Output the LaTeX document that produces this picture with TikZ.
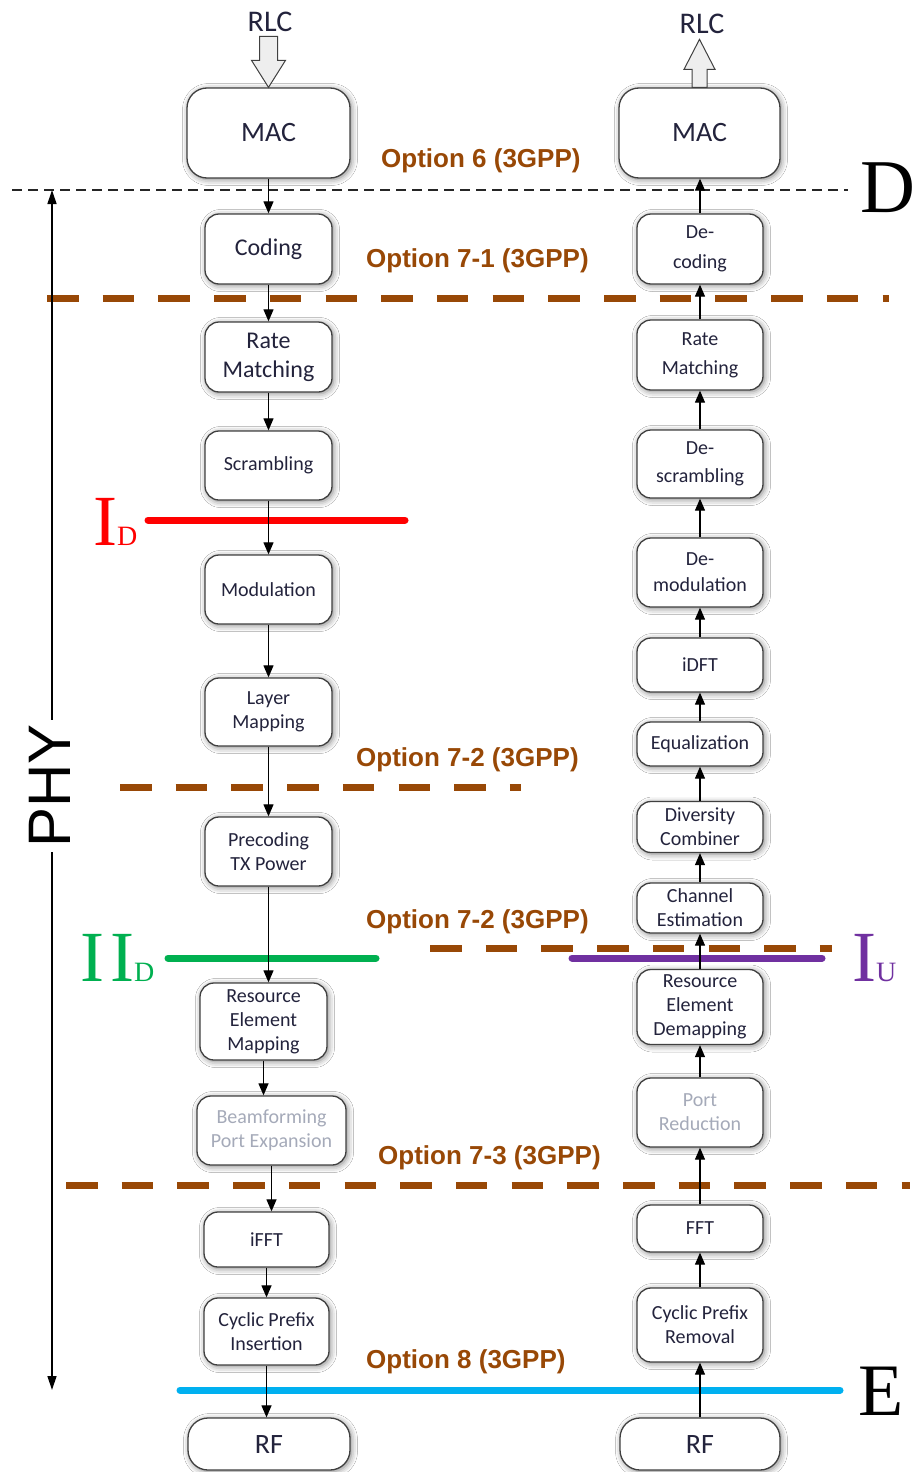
\documentclass[tikz,border=0pt]{standalone}
\usepackage{fontspec}
\setmainfont{Carlito}
\newfontfamily\arialf{Liberation Sans}
\newfontfamily\timesf{Liberation Serif}
\usetikzlibrary{arrows.meta,shadows.blur}
\definecolor{optbrown}{RGB}{152,72,6}
\definecolor{idred}{RGB}{255,0,0}
\definecolor{iidgreen}{RGB}{0,176,80}
\definecolor{iupurple}{RGB}{112,48,160}
\definecolor{ecyan}{RGB}{0,176,240}
\definecolor{boxtext}{RGB}{35,35,60}
\definecolor{graytext}{RGB}{165,170,185}
\definecolor{boxborder}{RGB}{64,64,64}
\definecolor{arrowfill}{RGB}{238,238,238}
\begin{document}
\begin{tikzpicture}[x=1pt,y=-1pt,
  blk/.style={draw=boxborder, line width=1.3pt, rounded corners=14pt, fill=white,
    align=center, inner sep=0pt, text=boxtext, font=\fontsize{20}{24}\selectfont,
    blur shadow={shadow xshift=1.5pt, shadow yshift=-1.5pt, shadow blur radius=6pt, shadow opacity=50}},
  big/.style={rounded corners=20pt, font=\fontsize{28}{32}\selectfont},
  mid/.style={font=\fontsize{24}{29}\selectfont},
  wide/.style={font=\fontsize{20}{28}\selectfont},
  faded/.style={text=graytext},
  conn/.style={-{Triangle[length=12pt,width=10pt]}, line width=1.2pt, black},
  blockarrow/.style={draw=boxborder, fill=arrowfill, line width=1pt, line join=miter},
  optlbl/.style={anchor=base west, inner sep=0pt, text=optbrown, font=\arialf\bfseries\fontsize{26}{26}\selectfont},
  browndash/.style={draw=optbrown, line width=7pt, dash pattern=on 31.5pt off 24.2pt},
  blackdash/.style={draw=black!85, line width=1.6pt, dash pattern=on 10pt off 6pt},
  solidcut/.style={line width=7pt, line cap=round},
  bigletter/.style={anchor=base west, inner sep=0pt},
]
\useasboundingbox (0,0) rectangle (917,1472);
\fill[white] (0,0) rectangle (917,1472);

% ---- horizontal split lines
\coordinate (d1) at (12,190); \coordinate (d2) at (848,190);
\draw[blackdash] (d1) -- (d2);
\coordinate (o71a) at (47,298); \coordinate (o71b) at (889,298);
\draw[browndash] (o71a) -- (o71b);
\coordinate (ida) at (148,520); \coordinate (idb) at (405,520);
\draw[solidcut, draw=idred] (ida) -- (idb);
\coordinate (o72a) at (120,787); \coordinate (o72b) at (521,787);
\draw[browndash] (o72a) -- (o72b);
\coordinate (o72c) at (430,948); \coordinate (o72d) at (832,948);
\draw[browndash] (o72c) -- (o72d);
\coordinate (iida) at (168,958); \coordinate (iidb) at (376,958);
\draw[solidcut, draw=iidgreen] (iida) -- (iidb);
\coordinate (iua) at (572,958); \coordinate (iub) at (822,958);
\draw[solidcut, draw=iupurple] (iua) -- (iub);
\coordinate (o73a) at (66,1185); \coordinate (o73b) at (910,1185);
\draw[browndash] (o73a) -- (o73b);
\coordinate (ea) at (180,1390); \coordinate (eb) at (840,1390);
\draw[solidcut, draw=ecyan] (ea) -- (eb);

% ---- PHY arrow
\coordinate (phyT) at (52,190); \coordinate (phyB) at (52,1390);
\draw[{Triangle[length=14pt,width=9pt]}-{Triangle[length=14pt,width=9pt]}, line width=1.3pt] (phyT) -- (phyB);
\node[rotate=90, fill=white, inner sep=4pt, font=\arialf\fontsize{60}{60}\selectfont] (phy) at (50,786) {PHY};

% ---- big letters
\node[bigletter, font=\timesf\fontsize{76}{76}\selectfont] (lblD) at (860,212) {D};
\node[bigletter, font=\timesf\fontsize{74}{74}\selectfont] (lblE) at (858,1415) {E};
\node[bigletter, text=idred] (lblID) at (93,545) {\timesf\fontsize{72}{72}\selectfont I\fontsize{28}{28}\selectfont D};
\node[bigletter, text=iidgreen] (lblIID) at (80,981) {\timesf\fontsize{72}{72}\selectfont I\kern6pt I\fontsize{28}{28}\selectfont D};
\node[bigletter, text=iupurple] (lblIU) at (852,981) {\timesf\fontsize{72}{72}\selectfont I\fontsize{28}{28}\selectfont U};

% ---- option labels
\node[optlbl] (opt6) at (381,167) {Option 6 (3GPP)};
\node[optlbl] (opt71) at (366,267) {Option 7-1 (3GPP)};
\node[optlbl] (opt72a) at (356,766) {Option 7-2 (3GPP)};
\node[optlbl] (opt72b) at (366,928) {Option 7-2 (3GPP)};
\node[optlbl] (opt73) at (378,1164) {Option 7-3 (3GPP)};
\node[optlbl] (opt8) at (366,1368) {Option 8 (3GPP)};

% ---- left column
\node[blk, big, minimum width=163pt, minimum height=90pt] (macL) at (268.5,133) {MAC};
\node[blk, mid, minimum width=127pt, minimum height=70pt] (codL) at (268.5,249) {Coding};
\node[blk, mid, minimum width=127pt, minimum height=70pt] (rateL) at (268.5,357) {Rate\\Matching};
\node[blk, minimum width=127pt, minimum height=69pt] (scrL) at (268.5,465.5) {Scrambling};
\node[blk, minimum width=127pt, minimum height=69pt] (modL) at (268.5,589.5) {Modulation};
\node[blk, minimum width=127pt, minimum height=68pt] (layL) at (268.5,712) {Layer\\Mapping};
\node[blk, minimum width=127pt, minimum height=69pt] (preL) at (268.5,851.5) {Precoding\\TX Power};
\node[blk, minimum width=127pt, minimum height=77pt] (remL) at (263.5,1021.5) {Resource\\Element\\Mapping};
\node[blk, faded, minimum width=149pt, minimum height=69pt] (bfL) at (271.5,1130.5) {Beamforming\\Port Expansion};
\node[blk, minimum width=125pt, minimum height=55pt] (ifftL) at (266.5,1239.5) {iFFT};
\node[blk, minimum width=125pt, minimum height=67pt] (cpiL) at (266.5,1331.5) {Cyclic Prefix\\Insertion};
\node[blk, big, minimum width=162pt, minimum height=52pt] (rfL) at (269,1444) {RF};

% ---- right column
\node[blk, big, minimum width=161pt, minimum height=90pt] (macR) at (699.5,133) {MAC};
\node[blk, wide, font=\fontsize{20}{30}\selectfont, minimum width=126pt, minimum height=70pt] (decR) at (700,249) {De-\\coding};
\node[blk, wide, font=\fontsize{20}{29}\selectfont, minimum width=126pt, minimum height=70pt] (rateR) at (700,355) {Rate\\Matching};
\node[blk, wide, minimum width=126pt, minimum height=68pt] (descR) at (700,464) {De-\\scrambling};
\node[blk, font=\fontsize{20}{26}\selectfont, minimum width=126pt, minimum height=69pt] (demR) at (700,572.5) {De-\\modulation};
\node[blk, minimum width=126pt, minimum height=54pt] (idftR) at (700,665) {iDFT};
\node[blk, minimum width=126pt, minimum height=44pt] (eqR) at (700,744) {Equalization};
\node[blk, minimum width=126pt, minimum height=51pt] (divR) at (700,827) {Diversity\\Combiner};
\node[blk, minimum width=126pt, minimum height=50pt] (chR) at (700,908) {Channel\\Estimation};
\node[blk, minimum width=126pt, minimum height=75pt] (redR) at (700,1007) {Resource\\Element\\Demapping};
\node[blk, faded, minimum width=126pt, minimum height=69pt] (prR) at (700,1112.5) {Port\\Reduction};
\node[blk, minimum width=126pt, minimum height=47pt] (fftR) at (700,1228.5) {FFT};
\node[blk, minimum width=126pt, minimum height=74pt] (cprR) at (700,1325) {Cyclic Prefix\\Removal};
\node[blk, big, minimum width=160pt, minimum height=52pt] (rfR) at (700,1444) {RF};

% ---- RLC block arrows
\node[font=\fontsize{30}{30}\selectfont, text=boxtext, inner sep=0pt] (rlcL) at (270,22) {RLC};
\node[font=\fontsize{30}{30}\selectfont, text=boxtext, inner sep=0pt] (rlcR) at (702,24) {RLC};
\draw[blockarrow] (macL.north) -- ++(17,-27) -- ++(-8,0) -- ++(0,-24) -- ++(-18,0) -- ++(0,24) -- ++(-8,0) -- cycle;
\draw[blockarrow] (macR.north) ++(-7.5,0) -- ++(0,-18) -- ++(-8,0) -- ++(15.5,-30) -- ++(15.5,30) -- ++(-8,0) -- ++(0,18) -- cycle;

% ---- left connectors (downward)
\foreach \a/\b in {macL/codL, codL/rateL, rateL/scrL, scrL/modL, modL/layL, layL/preL, preL/remL, remL/bfL, bfL/ifftL, ifftL/cpiL, cpiL/rfL}
  \draw[conn] (\a.south) -- (\a.south |- \b.north);

% ---- right connectors (upward)
\foreach \a/\b in {rfR/cprR, cprR/fftR, fftR/prR, prR/redR, redR/chR, chR/divR, divR/eqR, eqR/idftR, idftR/demR, demR/descR, descR/rateR, rateR/decR, decR/macR}
  \draw[conn] (\a.north) -- (\a.north |- \b.south);
\end{tikzpicture}
\end{document}
